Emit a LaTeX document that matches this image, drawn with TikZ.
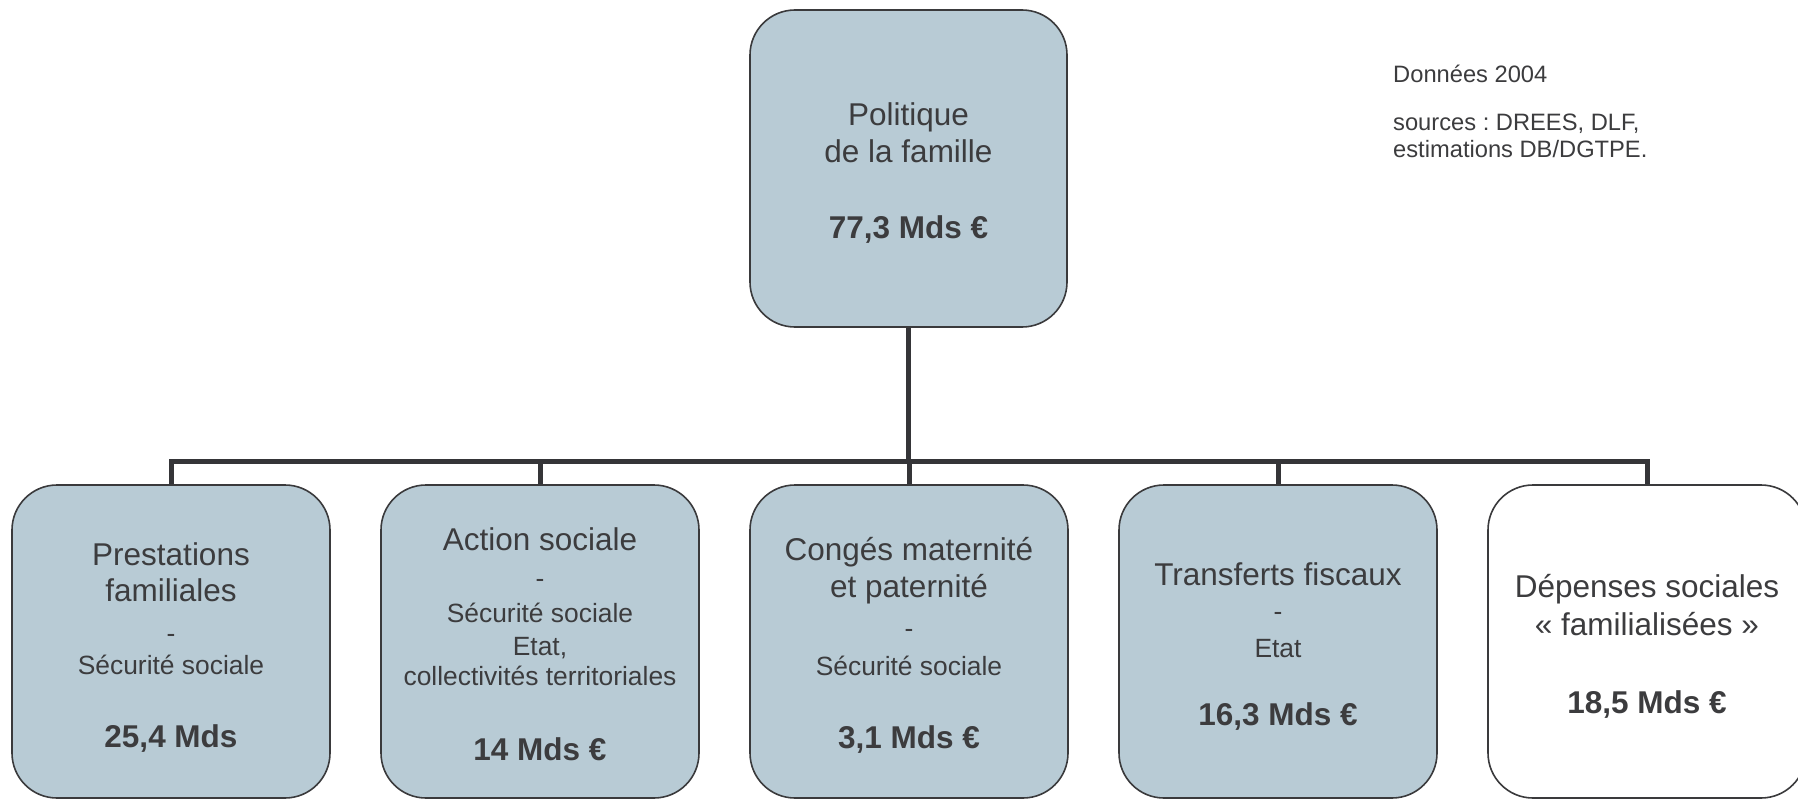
\documentclass[tikz,border=0pt]{standalone}
\usepackage{fontspec}
\setmainfont{Liberation Sans}
\frenchspacing
\definecolor{boxfill}{HTML}{B8CBD5}
\definecolor{boxline}{HTML}{3A3A3C}
\definecolor{connc}{HTML}{353538}
\definecolor{txtc}{HTML}{3C3C3E}
\tikzset{
  box/.style={draw=boxline, line width=1.6pt, fill=boxfill, rounded corners=45pt,
    rectangle, minimum width=318pt, minimum height=313pt, inner sep=0pt},
  topbox/.style={box, minimum width=317pt, minimum height=317pt},
  whitebox/.style={box, fill=white},
  conn/.style={draw=connc, line width=5pt},
  main/.style={anchor=base, inner sep=0pt, text=txtc, font=\fontsize{31.5pt}{38pt}\selectfont},
  sub/.style={anchor=base, inner sep=0pt, text=txtc, font=\fontsize{26.4pt}{32pt}\selectfont},
  num/.style={anchor=base, inner sep=0pt, text=txtc, font=\fontsize{31.5pt}{38pt}\selectfont\bfseries},
  note/.style={anchor=base west, inner sep=0pt, text=txtc, font=\fontsize{23.7pt}{28pt}\selectfont},
}
\begin{document}
\begin{tikzpicture}[x=1pt, y=-1pt]
\useasboundingbox (0,0) rectangle (1798,800);
% boxes
\node[topbox] (top) at (908.5,168.5) {};
\node[box] (b1) at (171,641.5) {};
\node[box] (b2) at (540,641.5) {};
\node[box] (b3) at (909,641.5) {};
\node[box] (b4) at (1278,641.5) {};
\node[whitebox] (b5) at (1647,641.5) {};
% connectors
\coordinate (bus) at (0,461);
\draw[conn] (top.south) -- (top.south |- bus);
\draw[conn] (b1.north) -- (b1.north |- bus) -- (b5.north |- bus) -- (b5.north);
\draw[conn] (b2.north) -- (b2.north |- bus);
\draw[conn] (b3.north) -- (b3.north |- bus);
\draw[conn] (b4.north) -- (b4.north |- bus);
% top box text
\node[main] (t0a) at (908.5,125) {Politique};
\node[main] (t0b) at (908.5,162) {de la famille};
\node[num]  (t0c) at (908.5,238) {77,3 Mds €};
% box 1
\node[main] (t1a) at (171,565) {Prestations};
\node[main] (t1b) at (171,601) {familiales};
\node[sub]  (t1c) at (171,642) {-};
\node[sub]  (t1d) at (171,674) {Sécurité sociale};
\node[num]  (t1e) at (171,747) {25,4 Mds};
% box 2
\node[main] (t2a) at (540,550) {Action sociale};
\node[sub]  (t2b) at (540,587) {-};
\node[sub]  (t2c) at (540,622) {Sécurité sociale};
\node[sub]  (t2d) at (540,655) {Etat,};
\node[sub]  (t2e) at (540,685) {collectivités territoriales};
\node[num]  (t2f) at (540,760) {14 Mds €};
% box 3
\node[main] (t3a) at (909,560) {Congés maternité};
\node[main] (t3b) at (909,597) {et paternité};
\node[sub]  (t3c) at (909,637) {-};
\node[sub]  (t3d) at (909,675) {Sécurité sociale};
\node[num]  (t3e) at (909,748) {3,1 Mds €};
% box 4
\node[main] (t4a) at (1278,585) {Transferts fiscaux};
\node[sub]  (t4b) at (1278,620) {-};
\node[sub]  (t4c) at (1278,657) {Etat};
\node[num]  (t4d) at (1278,725) {16,3 Mds €};
% box 5
\node[main] (t5a) at (1647,597) {Dépenses sociales};
\node[main] (t5b) at (1647,635) {« familialisées »};
\node[num]  (t5c) at (1647,713) {18,5 Mds €};
% note
\node[note] (n1) at (1393,82) {Données 2004};
\node[note] (n2) at (1393,130) {sources : DREES, DLF,};
\node[note] (n3) at (1393,157) {estimations DB/DGTPE.};
\end{tikzpicture}
\end{document}
